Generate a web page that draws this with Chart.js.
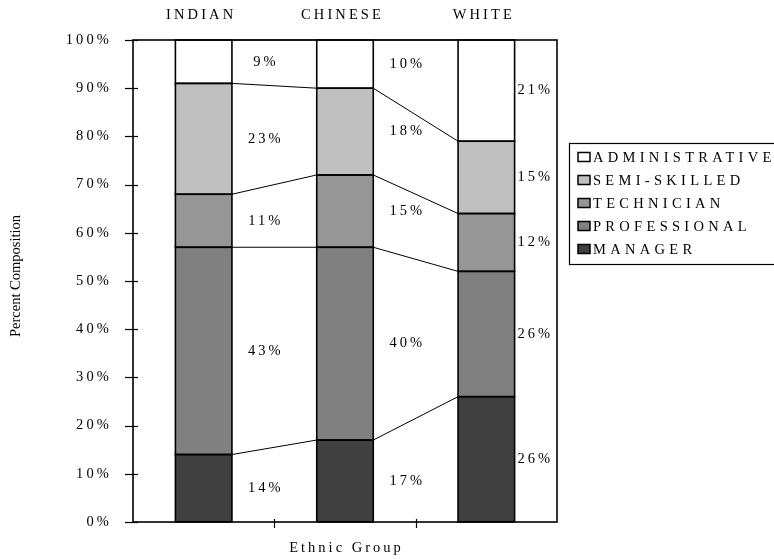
<!DOCTYPE html>
<html><head><meta charset="utf-8">
<script src="https://cdn.jsdelivr.net/npm/chart.js@4.4.1/dist/chart.umd.min.js"></script>
<style>html,body{margin:0;padding:0;background:#fff}#wrap{width:774px;height:559px;position:relative}</style>
</head><body><div id="wrap"><canvas id="c"></canvas></div>
<script>
const categories = ['INDIAN', 'CHINESE', 'WHITE'];
const manager = [14, 17, 26];
const professional = [43, 40, 26];
const technician = [11, 15, 12];
const semiSkilled = [23, 18, 15];
const administrative = [9, 10, 21];
const seriesNames = ['MANAGER', 'PROFESSIONAL', 'TECHNICIAN', 'SEMI-SKILLED', 'ADMINISTRATIVE'];
const seriesValues = [manager, professional, technician, semiSkilled, administrative];
const seriesColors = ['#404040', '#808080', '#969696', '#c0c0c0', '#ffffff'];
const yMin = 0, yMax = 100, yStep = 10;
const xTitle = 'Ethnic Group';
const yTitle = 'Percent Composition';

const FONT = "'Liberation Serif', 'Times New Roman', serif";
const FS = 14.5;

const decor = {
  id: 'decor',
  beforeDraw(chart) { chart.ctx.letterSpacing = '3.1px'; },
  afterDatasetsDraw(chart) {
    const ctx = chart.ctx;
    ctx.save();
    ctx.strokeStyle = '#000';
    ctx.lineWidth = 1;
    chart.data.datasets.forEach((ds, d) => {
      const meta = chart.getDatasetMeta(d);
      for (let i = 0; i < meta.data.length - 1; i++) {
        const a = meta.data[i], b = meta.data[i + 1];
        ctx.beginPath();
        ctx.moveTo(a.x + a.width / 2, a.y);
        ctx.lineTo(b.x - b.width / 2, b.y);
        ctx.stroke();
      }
    });
    ctx.lineWidth = 1.6;
    chart.data.datasets.forEach((ds, d) => {
      const meta = chart.getDatasetMeta(d);
      meta.data.forEach(el => {
        ctx.strokeRect(el.x - el.width / 2, el.y, el.width, el.base - el.y);
      });
    });
    ctx.restore();
  },
  afterDraw(chart) {
    const ctx = chart.ctx;
    const ca = chart.chartArea;
    const xs = chart.scales.x, ys = chart.scales.y;
    ctx.save();
    ctx.strokeStyle = '#000';
    ctx.lineWidth = 1.6;
    ctx.strokeRect(ca.left, ca.top, ca.right - ca.left, ca.bottom - ca.top);
    ctx.lineWidth = 1.2;
    ys.ticks.forEach(t => {
      const y = Math.round(ys.getPixelForValue(t.value)) + 0.5;
      ctx.beginPath(); ctx.moveTo(ca.left - 8, y); ctx.lineTo(ca.left + 5, y); ctx.stroke();
    });
    for (let i = 0; i < categories.length - 1; i++) {
      const x = Math.round((xs.getPixelForValue(i) + xs.getPixelForValue(i + 1)) / 2) + 0.5;
      ctx.beginPath(); ctx.moveTo(x, ca.bottom - 3); ctx.lineTo(x, ca.bottom + 6); ctx.stroke();
    }
    // data labels
    ctx.fillStyle = '#000';
    ctx.font = FS + 'px ' + FONT;
    ctx.letterSpacing = '3px';
    ctx.textAlign = 'center';
    ctx.textBaseline = 'middle';
    chart.data.datasets.forEach((ds, d) => {
      const meta = chart.getDatasetMeta(d);
      meta.data.forEach((el, i) => {
        const last = i === meta.data.length - 1;
        const right = el.x + el.width / 2;
        const nextLeft = !last ? meta.data[i + 1].x - meta.data[i + 1].width / 2 : ca.right;
        const x = (right + nextLeft) / 2 + (last ? -0.5 : -8.5);
        const y = (el.y + el.base) / 2;
        ctx.fillText(ds.data[i] + '%', x, y);
      });
    });
    // x title
    ctx.letterSpacing = '3px';
    ctx.fillText(xTitle, (ca.left + ca.right) / 2 + 1.5, 548);
    // y title
    ctx.letterSpacing = '0px';
    ctx.font = '14.5px ' + FONT;
    ctx.save();
    ctx.translate(16, 276);
    ctx.rotate(-Math.PI / 2);
    ctx.fillText(yTitle, 0, 0);
    ctx.restore();
    // legend
    ctx.lineWidth = 1.2;
    ctx.strokeStyle = '#000';
    ctx.strokeRect(569.5, 143.5, 240, 121);
    ctx.font = FS + 'px ' + FONT;
    ctx.letterSpacing = '4.3px';
    ctx.textAlign = 'left';
    const n = chart.data.datasets.length;
    for (let k = 0; k < n; k++) {
      const d = n - 1 - k;
      const ds = chart.data.datasets[d];
      const y = 157 + k * 23;
      ctx.fillStyle = ds.backgroundColor;
      ctx.fillRect(578, y - 4.5, 12, 9);
      ctx.lineWidth = 1.5;
      ctx.strokeRect(578, y - 4.5, 12, 9);
      ctx.fillStyle = '#000';
      ctx.fillText(ds.label, 593, y + 1);
    }
    ctx.restore();
  }
};

new Chart(document.getElementById('c'), {
  type: 'bar',
  data: {
    labels: categories,
    datasets: seriesNames.map((name, k) => ({
      label: name,
      data: seriesValues[k],
      backgroundColor: seriesColors[k],
      borderColor: '#000',
      borderWidth: 0,
      borderSkipped: false,
      barPercentage: 0.4,
      categoryPercentage: 1.0
    }))
  },
  options: {
    responsive: true,
    maintainAspectRatio: false,
    animation: false,
    layout: { padding: { left: 0, right: 217, top: 0, bottom: 37 } },
    plugins: { legend: { display: false }, title: { display: false }, tooltip: { enabled: false } },
    scales: {
      x: {
        stacked: true,
        position: 'top',
        grid: { display: false, drawTicks: false },
        border: { display: false },
        ticks: { color: '#000', font: { family: FONT, size: FS }, padding: 16, maxRotation: 0, autoSkip: false, labelOffset: -2.5 },
        afterFit: s => { s.height = 40; }
      },
      y: {
        stacked: true,
        min: yMin, max: yMax,
        grid: { display: false, drawTicks: false },
        border: { display: false },
        ticks: { stepSize: yStep, color: '#000', font: { family: FONT, size: FS }, padding: 21, callback: v => v + '%' },
        afterFit: s => { s.width = 133; }
      }
    }
  },
  plugins: [decor]
});
</script>
</body></html>
